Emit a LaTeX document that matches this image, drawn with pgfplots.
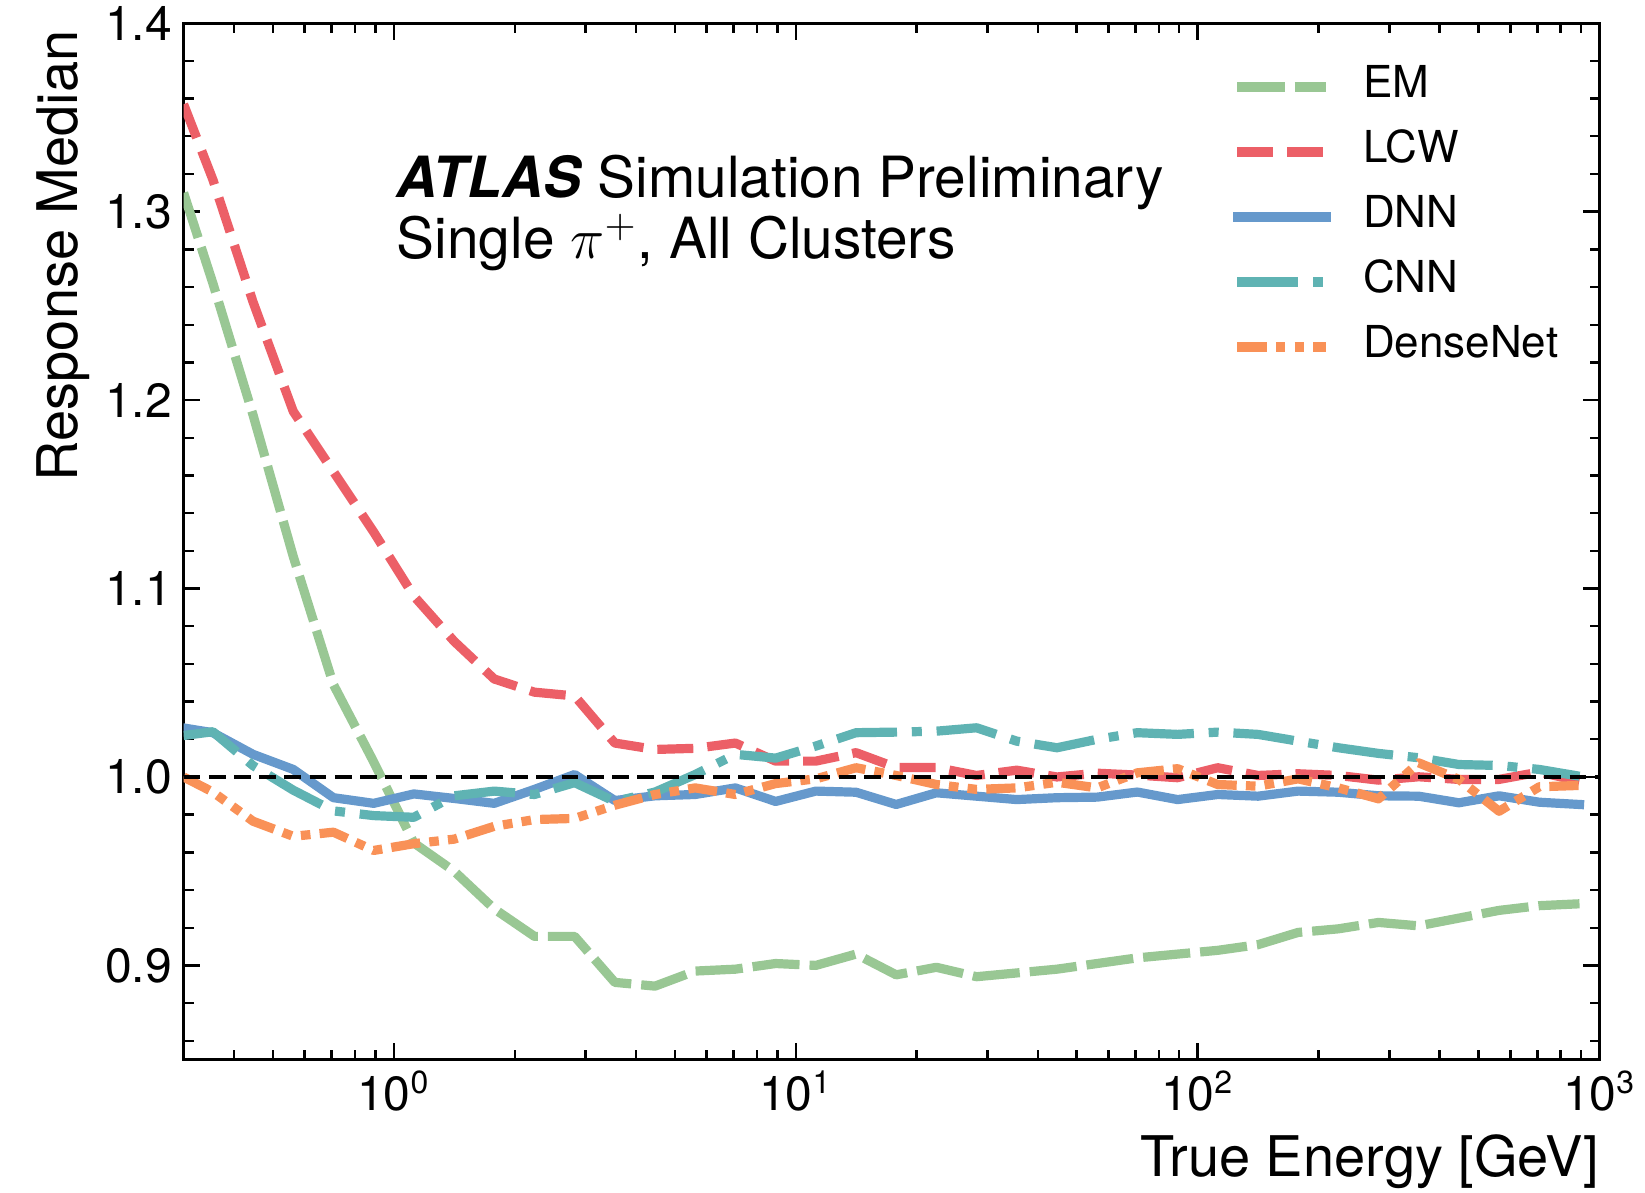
\documentclass[border=0pt]{standalone}
\usepackage{fontspec}
\setmainfont{TeX Gyre Heros}
\usepackage{pgfplots}
\pgfplotsset{compat=1.18}
\usepackage{pgfplotstable}
\definecolor{cEM}{HTML}{99C794}
\definecolor{cLCW}{HTML}{EC5F67}
\definecolor{cDNN}{HTML}{6699CC}
\definecolor{cCNN}{HTML}{5FB3B3}
\definecolor{cDense}{HTML}{F99157}

\pgfplotstableread{
x em lcw dnn cnn dense
0.3000 1.310 1.357 1.026 1.022 1.000
0.3548 1.262 1.317 1.0235 1.024 0.992
0.4467 1.192 1.252 1.012 1.006 0.9765
0.5623 1.117 1.194 1.004 0.993 0.9685
0.7079 1.049 1.162 0.989 0.982 0.9707
0.8913 1.008 1.130 0.986 0.9795 0.961
1.122 0.965 1.096 0.991 0.9786 0.9646
1.413 0.950 1.072 0.9886 0.990 0.967
1.778 0.930 1.052 0.986 0.9925 0.9738
2.239 0.9154 1.045 0.9934 0.9907 0.9774
2.818 0.9154 1.043 1.0013 0.997 0.978
3.548 0.891 1.018 0.9875 0.987 0.985
4.467 0.889 1.0146 0.990 0.992 0.9907
5.623 0.897 1.0152 0.9907 1.0013 0.9942
7.079 0.898 1.018 0.9942 1.012 0.9907
8.913 0.901 1.0084 0.987 1.010 0.9965
11.22 0.900 1.0084 0.9925 1.0164 0.999
14.13 0.906 1.0129 0.9919 1.0235 1.0049
17.78 0.895 1.005 0.9854 1.0238 1.0008
22.39 0.899 1.005 0.9916 1.0243 0.996
28.18 0.894 1.0008 0.9898 1.0261 0.9934
35.48 0.896 1.0036 0.988 1.019 0.9942
44.67 0.898 1.000 0.989 1.0155 0.9972
56.23 0.901 1.002 0.9893 1.020 0.9942
70.79 0.904 1.001 0.992 1.0235 1.0022
89.13 0.906 0.9996 0.988 1.0226 1.0044
112.2 0.908 1.0049 0.9907 1.0238 0.996
141.3 0.911 1.0008 0.9898 1.0226 0.9951
177.8 0.9175 1.0017 0.9925 1.019 0.999
223.9 0.9194 1.0008 0.9919 1.0155 0.9942
281.8 0.9228 0.9983 0.990 1.0125 0.9884
354.8 0.921 1.0001 0.9898 1.0102 1.0075
446.7 0.9251 0.9987 0.9863 1.0066 0.9987
562.3 0.9292 0.9987 0.990 1.0061 0.9818
707.9 0.9317 1.0026 0.9866 1.004 0.9948
891.3 0.9327 0.9978 0.9854 1.0004 0.9955
}\datatable

\begin{document}
\begin{tikzpicture}
\useasboundingbox (-45.9pt,-33.1pt) rectangle (365.35pt,264.9pt);
\begin{axis}[
  at={(0pt,0pt)}, anchor=south west,
  scale only axis, width=354pt, height=259.1pt,
  xmode=log, xmin=0.3, xmax=1000, ymin=0.85, ymax=1.4,
  xtick={1,10,100,1000},
  xticklabels={10\textsuperscript{0},10\textsuperscript{1},10\textsuperscript{2},10\textsuperscript{3}},
  minor xtick={0.4,0.5,0.6,0.7,0.8,0.9,2,3,4,5,6,7,8,9,20,30,40,50,60,70,80,90,200,300,400,500,600,700,800,900},
  ytick={0.9,1.0,1.1,1.2,1.3,1.4},
  yticklabels={0.9,1.0,1.1,1.2,1.3,1.4},
  minor ytick={0.86,0.88,0.92,0.94,0.96,0.98,1.02,1.04,1.06,1.08,1.12,1.14,1.16,1.18,1.22,1.24,1.26,1.28,1.32,1.34,1.36,1.38},
  xtick pos=both, ytick pos=both,
  tick align=inside, major tick length=4.2pt, minor tick length=2.5pt,
  every tick/.style={black, line width=0.6pt},
  axis line style={line width=0.75pt},
  xticklabel style={font=\fontsize{12}{14}\selectfont, anchor=base, inner sep=0pt, yshift=-12.75pt},
  yticklabel style={font=\fontsize{12}{14}\selectfont, anchor=east, inner sep=0pt, xshift=-2.75pt},
  legend style={draw=none, fill=none, inner sep=0pt, outer sep=0pt,
    at={(0.741,0.9588)}, anchor=north west,
    font=\fontsize{11}{13}\selectfont, row sep=5.75pt, column sep=8pt,
    nodes={inner sep=0pt, text height=8pt, text depth=2.5pt}},
  legend cell align=left,
  legend image code/.code={\draw[#1] (0pt,0pt) -- (22.25pt,0pt);},
  every axis plot/.append style={line join=round},
]
\addplot[cEM, line width=2.3pt, dash pattern=on 11.8pt off 2.5pt] table[x=x,y=em]{\datatable};
\addlegendentry{EM}
\addplot[cLCW, line width=2.3pt, dash pattern=on 9pt off 3.5pt] table[x=x,y=lcw]{\datatable};
\addlegendentry{LCW}
\addplot[cDNN, line width=2.3pt, line cap=rect] table[x=x,y=dnn]{\datatable};
\addlegendentry{DNN}
\addplot[cCNN, line width=2.3pt, dash pattern=on 15.2pt off 3.7pt on 2.5pt off 3.7pt] table[x=x,y=cnn]{\datatable};
\addlegendentry{CNN}
\addplot[cDense, line width=2.3pt, dash pattern=on 7.3pt off 2.3pt on 2.4pt off 2.3pt on 2.4pt off 2.3pt] table[x=x,y=dense]{\datatable};
\addlegendentry{DenseNet}
\addplot[black, line width=1.1pt, dash pattern=on 4.2pt off 2.1pt, forget plot] coordinates {(0.3,1) (1000,1)};
\end{axis}
\node[anchor=base west, inner sep=0pt, font=\fontsize{14.2}{17}\selectfont] at (53.1pt,215.6pt) {\textbf{\textit{ATLAS}} Simulation Preliminary};
\node[anchor=base west, inner sep=0pt, font=\fontsize{14.2}{17}\selectfont] at (53.1pt,200.35pt) {Single $\pi^{+}$, All Clusters};
\node[rotate=90, anchor=east, inner sep=0pt, font=\fontsize{14}{17}\selectfont] at (-30.2pt,257.5pt) {Response Median};
\node[anchor=base east, inner sep=0pt, font=\fontsize{14}{17}\selectfont] at (354pt,-29.25pt) {True Energy [GeV]};
\end{tikzpicture}
\end{document}
